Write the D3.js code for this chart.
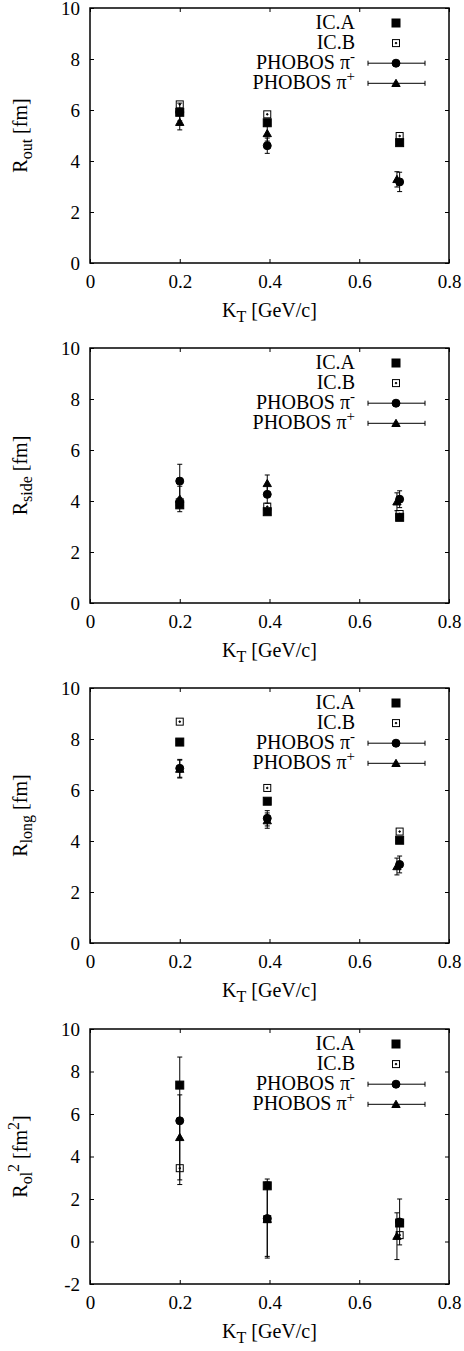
<!DOCTYPE html>
<html>
<head>
<meta charset="utf-8">
<script src="https://cdn.jsdelivr.net/npm/d3@7"></script>
<style>
  body { margin: 0; background: #fff; }
  svg { display: block; }
  svg text { font-family: "Liberation Serif", "Times New Roman", Times, serif; }
</style>
</head>
<body>
<div id="chart"></div>
<script>
// kT bins (GeV/c); the pi+ points sit a little left of the others at the last bin
const kT = [0.2, 0.395, 0.69];
const kTPiPlus = [0.2, 0.395, 0.684];
const xTicks = [0, 0.2, 0.4, 0.6, 0.8];

// R_out [fm]
const rOutICA = [5.91, 5.50, 4.72];
const rOutICB = [6.22, 5.83, 4.98];
const rOutPiM = [5.92, 4.60, 3.18];
const rOutPiMErr = [0.35, 0.30, 0.38];
const rOutPiP = [5.52, 5.08, 3.28];
const rOutPiPErr = [0.30, 0.30, 0.30];

// R_side [fm]
const rSideICA = [3.85, 3.58, 3.36];
const rSideICB = [3.95, 3.78, 3.49];
const rSidePiM = [4.78, 4.26, 4.07];
const rSidePiMErr = [0.66, 0.35, 0.33];
const rSidePiP = [4.08, 4.69, 3.97];
const rSidePiPErr = [0.50, 0.33, 0.35];

// R_long [fm]
const rLongICA = [7.88, 5.56, 4.03];
const rLongICB = [8.68, 6.08, 4.37];
const rLongPiM = [6.85, 4.89, 3.08];
const rLongPiMErr = [0.35, 0.30, 0.33];
const rLongPiP = [6.82, 4.80, 3.00];
const rLongPiPErr = [0.35, 0.30, 0.33];

// R_ol^2 [fm^2]
const rOlICA = [7.36, 2.62, 0.87];
const rOlICB = [3.45, 1.05, 0.30];
const rOlPiM = [5.68, 1.08, 0.92];
const rOlPiMErr = [3.00, 1.86, 1.08];
const rOlPiP = [4.90, 1.05, 0.25];
const rOlPiPErr = [2.00, 1.75, 1.10];

const yTicks = [0, 2, 4, 6, 8, 10];
const yTicksOl = [-2, 0, 2, 4, 6, 8, 10];
const legendNames = ["IC.A", "IC.B", "PHOBOS π", "PHOBOS π"];
const legendSup = ["", "", "-", "+"];

const panels = [
    {sub: "out", sup: "", unitSup: "", domain: [0, 10], ticks: yTicks,
     icA: rOutICA, icB: rOutICB, piM: rOutPiM, piMErr: rOutPiMErr, piP: rOutPiP, piPErr: rOutPiPErr},
    {sub: "side", sup: "", unitSup: "", domain: [0, 10], ticks: yTicks,
     icA: rSideICA, icB: rSideICB, piM: rSidePiM, piMErr: rSidePiMErr, piP: rSidePiP, piPErr: rSidePiPErr},
    {sub: "long", sup: "", unitSup: "", domain: [0, 10], ticks: yTicks,
     icA: rLongICA, icB: rLongICB, piM: rLongPiM, piMErr: rLongPiMErr, piP: rLongPiP, piPErr: rLongPiPErr},
    {sub: "ol", sup: "2", unitSup: "2", domain: [-2, 10], ticks: yTicksOl,
     icA: rOlICA, icB: rOlICB, piM: rOlPiM, piMErr: rOlPiMErr, piP: rOlPiP, piPErr: rOlPiPErr}
];

const width = 464, height = 1351;
const fs = 20;       // titles and legend
const tickFs = 19;   // tick labels
const plotL = 90, plotR = 449, plotH = 255;
const panelTop = [8, 348, 688, 1029];

const svg = d3.select("#chart").append("svg")
    .attr("width", width)
    .attr("height", height)
    .attr("font-size", fs);

const x = d3.scaleLinear().domain([0, 0.8]).range([plotL, plotR]);

function errorBar(g, cx, y0, y1) {
    g.append("line").attr("x1", cx).attr("x2", cx).attr("y1", y0).attr("y2", y1);
    g.append("line").attr("x1", cx - 2.5).attr("x2", cx + 2.5).attr("y1", y0).attr("y2", y0);
    g.append("line").attr("x1", cx - 2.5).attr("x2", cx + 2.5).attr("y1", y1).attr("y2", y1);
}

function marker(g, type, cx, cy) {
    if (type === "sqFill") {
        g.append("rect").attr("x", cx - 4).attr("y", cy - 4).attr("width", 8).attr("height", 8).attr("fill", "#000");
    } else if (type === "sqOpen") {
        g.append("rect").attr("x", cx - 3.5).attr("y", cy - 3.5).attr("width", 7).attr("height", 7)
            .attr("fill", "none").attr("stroke", "#000").attr("stroke-width", 1);
        g.append("circle").attr("cx", cx).attr("cy", cy).attr("r", 0.8).attr("fill", "#000");
    } else if (type === "circle") {
        g.append("circle").attr("cx", cx).attr("cy", cy).attr("r", 4).attr("fill", "#000");
    } else {
        g.append("path").attr("d", d3.symbol(d3.symbolTriangle, 30)())
            .attr("transform", `translate(${cx},${cy + 0.8})`).attr("fill", "#000");
    }
}

panels.forEach((p, i) => {
    const top = panelTop[i], bot = top + plotH;
    const y = d3.scaleLinear().domain(p.domain).range([bot, top]);
    const g = svg.append("g");

    // bottom axis with labels, ticks pointing inward
    const xa = g.append("g").attr("transform", `translate(0,${bot})`)
        .call(d3.axisBottom(x).tickValues(xTicks).tickFormat(d => String(d))
            .tickSizeInner(-4).tickSizeOuter(0));
    xa.select(".domain").remove();
    xa.selectAll(".tick text").attr("y", 25).attr("dy", null);

    // mirror ticks on top
    const xt = g.append("g").attr("transform", `translate(0,${top})`)
        .call(d3.axisTop(x).tickValues(xTicks).tickFormat("").tickSizeInner(-4).tickSizeOuter(0));
    xt.select(".domain").remove();

    // left axis with labels
    const ya = g.append("g").attr("transform", `translate(${plotL},0)`)
        .call(d3.axisLeft(y).tickValues(p.ticks).tickFormat(d => String(d))
            .tickSizeInner(-4).tickSizeOuter(0).tickPadding(10));
    ya.select(".domain").remove();
    ya.selectAll(".tick text").attr("dy", 6);

    // mirror ticks on right
    const yr = g.append("g").attr("transform", `translate(${plotR},0)`)
        .call(d3.axisRight(y).tickValues(p.ticks).tickFormat("").tickSizeInner(-4).tickSizeOuter(0));
    yr.select(".domain").remove();

    g.selectAll(".tick line").attr("stroke", "#000");
    g.selectAll(".tick text").attr("fill", "#000");
    [xa, xt, ya, yr].forEach(a => a.attr("font-family", null).attr("font-size", tickFs));

    // frame
    g.append("rect").attr("x", plotL).attr("y", top)
        .attr("width", plotR - plotL).attr("height", plotH)
        .attr("fill", "none").attr("stroke", "#000").attr("stroke-width", 1.5);

    // x title
    const xt2 = g.append("text").attr("x", x(0.4)).attr("y", bot + 54).attr("text-anchor", "middle");
    xt2.append("tspan").text("K");
    xt2.append("tspan").attr("font-size", fs * 0.8).attr("dy", 5).text("T");
    xt2.append("tspan").attr("dy", -5).text(" [GeV/c]");

    // y title
    const cy = (top + bot) / 2;
    const yt = g.append("text").attr("transform", `translate(27,${cy}) rotate(-90)`)
        .attr("text-anchor", "middle");
    yt.append("tspan").text("R");
    yt.append("tspan").attr("font-size", fs * 0.8).attr("dy", 5).text(p.sub);
    if (p.sup) {
        yt.append("tspan").attr("font-size", fs * 0.8).attr("dy", -13).text(p.sup);
        yt.append("tspan").attr("dy", 8).text(" [fm");
        yt.append("tspan").attr("font-size", fs * 0.8).attr("dy", -8).text(p.unitSup);
        yt.append("tspan").attr("dy", 8).text("]");
    } else {
        yt.append("tspan").attr("dy", -5).text(" [fm]");
    }

    // data
    const d = g.append("g").attr("stroke", "#000").attr("stroke-width", 1);
    kT.forEach((k, j) => marker(d, "sqFill", x(k), y(p.icA[j])));
    kT.forEach((k, j) => marker(d, "sqOpen", x(k), y(p.icB[j])));
    kT.forEach((k, j) => {
        errorBar(d, x(k), y(p.piM[j] - p.piMErr[j]), y(p.piM[j] + p.piMErr[j]));
        marker(d, "circle", x(k), y(p.piM[j]));
    });
    kTPiPlus.forEach((k, j) => {
        errorBar(d, x(k), y(p.piP[j] - p.piPErr[j]), y(p.piP[j] + p.piPErr[j]));
        marker(d, "triangle", x(k), y(p.piP[j]));
    });

    // legend
    const lg = g.append("g");
    legendNames.forEach((name, j) => {
        const ry = top + 15 + j * 20.1;
        const t = lg.append("text").attr("x", 355).attr("y", ry + 6).attr("text-anchor", "end");
        t.append("tspan").text(name);
        if (legendSup[j]) t.append("tspan").attr("font-size", fs * 0.75).attr("dy", -8).text(legendSup[j]);
        const mg = lg.append("g").attr("stroke", "#000").attr("stroke-width", 1);
        if (j === 0) marker(mg, "sqFill", 396, ry);
        if (j === 1) marker(mg, "sqOpen", 396, ry);
        if (j >= 2) {
            mg.append("line").attr("x1", 368).attr("x2", 425).attr("y1", ry).attr("y2", ry);
            mg.append("line").attr("x1", 368).attr("x2", 368).attr("y1", ry - 2.5).attr("y2", ry + 2.5);
            mg.append("line").attr("x1", 425).attr("x2", 425).attr("y1", ry - 2.5).attr("y2", ry + 2.5);
            marker(mg, j === 2 ? "circle" : "triangle", 396, ry);
        }
    });
});
</script>
</body>
</html>
